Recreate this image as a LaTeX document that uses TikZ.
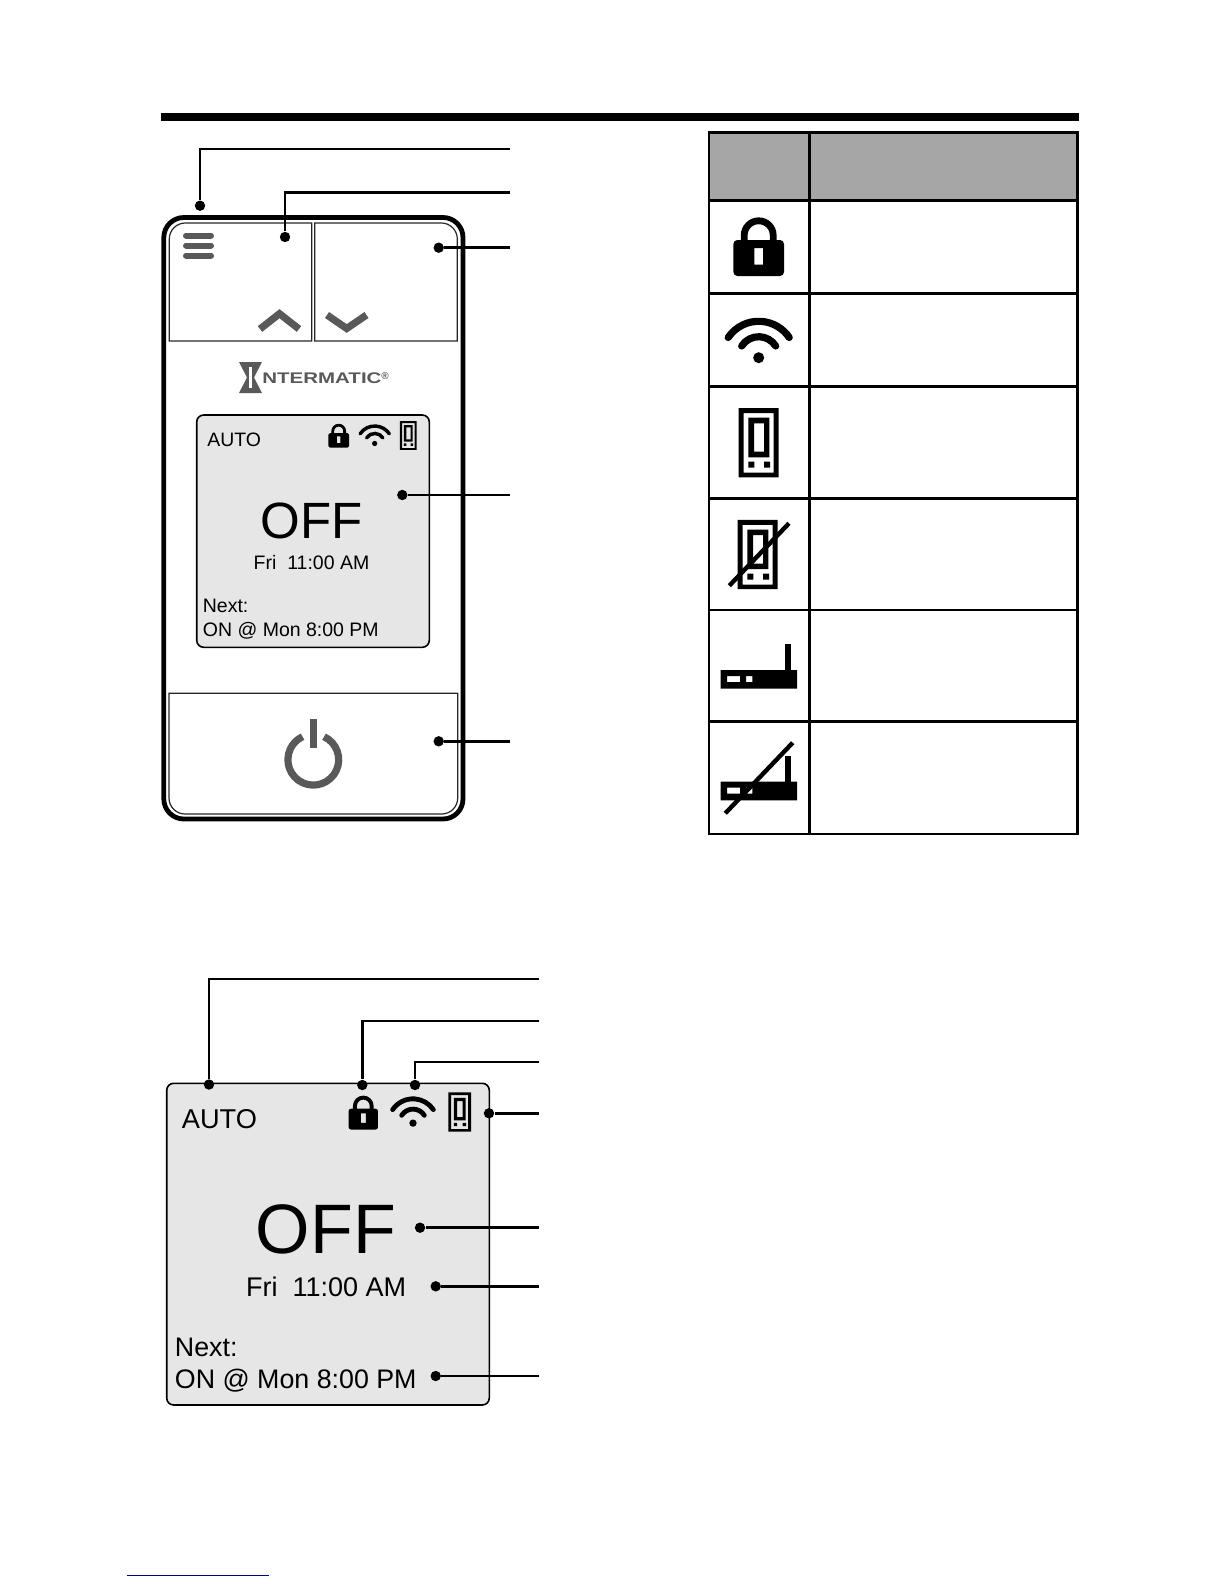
\documentclass[tikz,border=0pt]{standalone}
\usepackage{fontspec}
\usepackage{graphicx}
\setmainfont{Liberation Sans}

\definecolor{keygray}{HTML}{595959}
\definecolor{screengray}{HTML}{E6E6E6}
\definecolor{headgray}{HTML}{A6A6A6}
\definecolor{linkblue}{HTML}{00008B}

\tikzset{
    dot/.style={circle,fill=black,inner sep=0pt,minimum size=5.2pt},
    leader/.style={line width=1.3pt},
    keyline/.style={line width=0.6pt,draw=black!85},
    screenbox/.style={line width=0.8pt,fill=screengray,rounded corners=3.5pt},
    screentext/.style={anchor=base west,inner sep=0pt},
    tablerule/.style={line width=1.25pt},
    slash/.style={line width=2.2pt}
}

% x, y, scale
\newcommand{\drawlock}[3]{
\begin{scope}[shift={(#1,#2)},scale=#3]
    \fill[rounded corners=#3*2pt,even odd rule] (-25.3,-6.6) rectangle (25.3,29.4)
        [sharp corners] (-4.3,1.4) rectangle (4.3,18.1);
    \draw[line width=#3*3.4pt] (-14.5,-6) -- (-14.5,-11.3) arc[start angle=180,end angle=360,radius=14.5] -- (14.5,-6);
\end{scope}
}
\newcommand{\drawwifi}[3]{
\begin{scope}[shift={(#1,#2)},scale=#3]
    \draw[line width=#3*3.6pt,line cap=round] (-30.5,-2.5) arc[start angle=214,end angle=326,radius=36.8];
    \draw[line width=#3*3.6pt,line cap=round] (-17,6) arc[start angle=212.7,end angle=327.3,radius=20.2];
    \fill (0,17.7) circle[radius=5.5];
\end{scope}
}
\newcommand{\drawstat}[3]{
\begin{scope}[shift={(#1,#2)},scale=#3]
    \fill[even odd rule] (-20,-34.7) rectangle (20,34.7)
        (-15,-29.7) rectangle (15,30)
        (-10.4,-25) rectangle (10.6,14.6)
        (-4.7,-19.4) rectangle (5.3,9)
        (-10.4,19) rectangle (-4.4,25)
        (5.3,19) rectangle (11.3,25);
\end{scope}
}
\newcommand{\drawrouter}[2]{
\begin{scope}[shift={(#1,#2)}]
    \fill[even odd rule] (0,0) rectangle (76.3,18.7)
        (6.3,6) rectangle (19.3,12)
        (25.3,6) rectangle (31.6,12);
    \fill (64.3,1) rectangle (70,-25.7);
\end{scope}
}

\begin{document}
\begin{tikzpicture}[x=0.5pt,y=-0.5pt]
\useasboundingbox (0,0) rectangle (1224,1584);

% title rule
\fill (161,113) rectangle (1079,121);

% keypad
\draw[line width=2.4pt,rounded corners=10pt] (163.8,217.5) rectangle (463,819);
\draw[keyline] (169.3,341) [rounded corners=8pt] -- (169.3,223) [sharp corners] -- (311.7,223) -- (311.7,341) -- cycle;
\draw[keyline] (314.7,341) -- (314.7,223) [rounded corners=8pt] -- (457.3,223) [sharp corners] -- (457.3,341) -- cycle;
\draw[keyline,rounded corners=8pt] (169,693.3) -- (169,814) -- (457.7,814) [sharp corners] -- (457.7,693.3) -- cycle;

\draw[keygray,line width=3pt,line cap=round] (186,235.5) -- (211,235.5);
\draw[keygray,line width=3pt,line cap=round] (186,245.5) -- (211,245.5);
\draw[keygray,line width=3pt,line cap=round] (186,255.5) -- (211,255.5);
\draw[keygray,line width=3.6pt] (260,329) -- (279.5,313.7) -- (299,329);
\draw[keygray,line width=3.6pt] (327,315) -- (346.7,328.5) -- (366.5,315);

% logo
\fill[keygray] (239,362) -- (262,362) -- (254,377.5) -- (262,393) -- (239,393) -- (247,377.5) -- cycle;
\fill[white] (249.2,367) rectangle (251.6,388);
\node (logo) [screentext,keygray,font=\bfseries\fontsize{7.7}{9}\selectfont] at (262,383) {\scalebox{1.33}[1]{NTERMATIC}\raisebox{1.6pt}{\fontsize{5}{6}\selectfont®}};

% small screen
\draw[screenbox] (196.7,415) rectangle (429.3,647.3);
\node (autosmall) [screentext,font=\fontsize{9.7}{11}\selectfont] at (207,446.7) {AUTO};
\node (offsmall) [screentext,font=\fontsize{25.5}{30}\selectfont] at (260.5,538.3) {OFF};
\node (timesmall) [screentext,font=\fontsize{9.75}{12}\selectfont] at (253.3,569) {Fri\ \ 11:00 AM};
\node (nextsmall) [screentext,font=\fontsize{9.75}{12}\selectfont] at (202.5,612.7) {Next:};
\node (onsmall) [screentext,font=\fontsize{9.75}{12}\selectfont] at (202.5,636) {ON @ Mon 8:00 PM};
\drawlock{338.7}{435.7}{.408}
\drawwifi{374.7}{435}{.479}
\drawstat{408.3}{435.5}{.417}

% power key
\draw[keygray,line width=3.6pt] (313.3,759.7) ++(295:25.4) arc[start angle=295,end angle=605,radius=25.4];
\fill[keygray] (310,719.3) rectangle (316.7,748.3);

\node (menudot) [dot] at (200,205.7) {};
\node (updot) [dot] at (285,237) {};
\node (downdot) [dot] at (438.7,247.7) {};
\node (screendot) [dot] at (402.3,495) {};
\node (powerdot) [dot] at (438.7,741.3) {};
\coordinate (menuend) at (510,149);
\coordinate (upend) at (510,192.7);
\coordinate (downend) at (510,247.7);
\coordinate (screenend) at (510,495);
\coordinate (powerend) at (510,741.3);

\draw[leader] (menuend) -| (menudot);
\draw[leader] (upend) -| (updot);
\draw[leader] (downend) -- (downdot);
\draw[leader] (screenend) -- (screendot);
\draw[leader] (powerend) -- (powerdot);

% icon table
\fill[headgray] (709,132.3) rectangle (1077.7,200.7);
\draw[tablerule] (709,132.3) rectangle (1077.7,834);
\draw[tablerule] (809.3,132.3) -- (809.3,834);
\draw[tablerule] (709,200.7) -- (1077.7,200.7);
\draw[tablerule] (709,293.3) -- (1077.7,293.3);
\draw[tablerule] (709,386.3) -- (1077.7,386.3);
\draw[tablerule] (709,498.3) -- (1077.7,498.3);
\draw[tablerule] (709,610) -- (1077.7,610);
\draw[tablerule] (709,721.7) -- (1077.7,721.7);

\drawlock{758.7}{246.6}{1}
\drawwifi{758.7}{340}{1}
\drawstat{758.7}{442.7}{1}
\drawstat{757.7}{554.5}{1}
\draw[slash] (729.3,585.7) -- (789,523.3);
\drawrouter{720.7}{670}
\drawrouter{720.7}{781.7}
\draw[slash] (725.3,813.3) -- (792.7,742.7);

% large screen
\draw[screenbox] (166.7,1083.3) rectangle (489.3,1405);
\node (autolarge) [screentext,font=\fontsize{13.6}{15}\selectfont] at (181.5,1128.3) {AUTO};
\node (offlarge) [screentext,font=\fontsize{35}{40}\selectfont] at (255.5,1253.3) {OFF};
\node (timelarge) [screentext,font=\fontsize{13.5}{16}\selectfont] at (245.8,1296) {Fri\ \ 11:00 AM};
\node (nextlarge) [screentext,font=\fontsize{13.4}{16}\selectfont] at (174.5,1356.7) {Next:};
\node (onlarge) [screentext,font=\fontsize{13.4}{16}\selectfont] at (174.5,1388.3) {ON @ Mon 8:00 PM};
\drawlock{363.3}{1112.5}{.578}
\drawwifi{413}{1111.3}{.667}
\drawstat{459.7}{1112}{.567}

\node (modedot) [dot] at (209,1084.5) {};
\node (lockdot) [dot] at (362.3,1085) {};
\node (wifidot) [dot] at (415,1085) {};
\node (statdot) [dot] at (489,1113.3) {};
\node (statedot) [dot] at (420,1227.7) {};
\node (timedot) [dot] at (435.7,1286.3) {};
\node (nextdot) [dot] at (435.7,1376) {};
\coordinate (modeend) at (539,979);
\coordinate (lockend) at (539,1021);
\coordinate (wifiend) at (539,1062);
\coordinate (statend) at (539,1113.3);
\coordinate (stateend) at (539,1227.7);
\coordinate (timeend) at (539,1286.3);
\coordinate (nextend) at (539,1376);

\draw[leader] (modeend) -| (modedot);
\draw[leader] (lockend) -| (lockdot);
\draw[leader] (wifiend) -| (wifidot);
\draw[leader] (statend) -- (statdot);
\draw[leader] (stateend) -- (statedot);
\draw[leader] (timeend) -- (timedot);
\draw[leader] (nextend) -- (nextdot);

% bottom rule
\draw[linkblue,line width=0.6pt] (127,1575.3) -- (269,1575.3);
\end{tikzpicture}
\end{document}
